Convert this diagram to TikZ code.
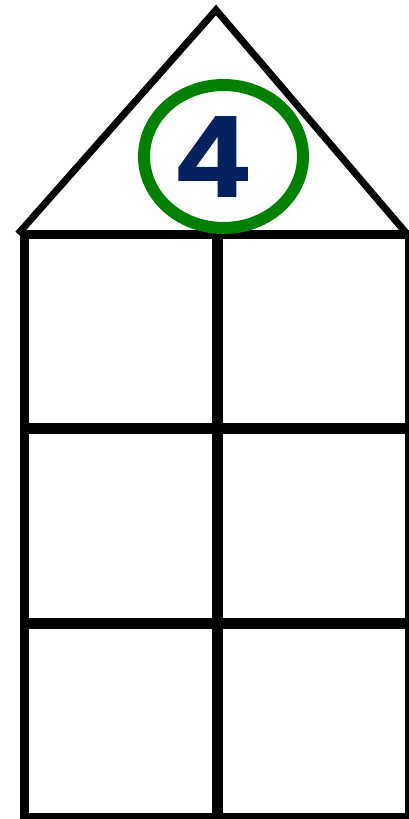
\documentclass[tikz,border=0pt]{standalone}
\usepackage{fontspec}
\setmainfont{Liberation Sans}
\newfontfamily\digitfont[FakeBold=2]{Liberation Sans Bold}
\usepackage{xcolor}
\usepackage{tikz}
\usetikzlibrary{shapes.geometric}

\definecolor{ringgreen}{HTML}{008000}
\definecolor{digitblue}{HTML}{03205F}

\begin{document}
\begin{tikzpicture}[
  x=1pt,
  y=-1pt,
  wall/.style={draw=black,line width=9pt,line cap=rect},
  bar/.style={draw=black,line width=11pt},
  roof/.style={draw=black,line width=7pt,line join=miter},
  ring/.style={ellipse,draw=ringgreen,line width=12pt,minimum width=159pt,minimum height=143pt,inner sep=0pt},
  digit/.style={font=\digitfont\fontsize{114}{114}\selectfont,text=digitblue,inner sep=0pt}
]
  \useasboundingbox (0,0) rectangle (409,819);

  % roof
  \draw[roof] (18,234) -- (216,10) -- (407,234);

  % outer walls
  \draw[wall] (24,234) -- (407,234);
  \draw[wall] (24,234) -- (24,816);
  \draw[wall,line width=7pt] (24,816) -- (407,816);
  \draw[wall,line width=4pt] (407,234) -- (407,816);

  % rooms
  \draw[bar] (217.5,234) -- (217.5,816);
  \draw[bar] (24,428.5) -- (407,428.5);
  \draw[bar] (24,623.5) -- (407,623.5);

  % number
  \node[ring] (ring) at (223.5,156.5) {};
  \node[digit] (num) at (212.5,156.5) {\scalebox{1.1}[1]{4}};
\end{tikzpicture}
\end{document}
